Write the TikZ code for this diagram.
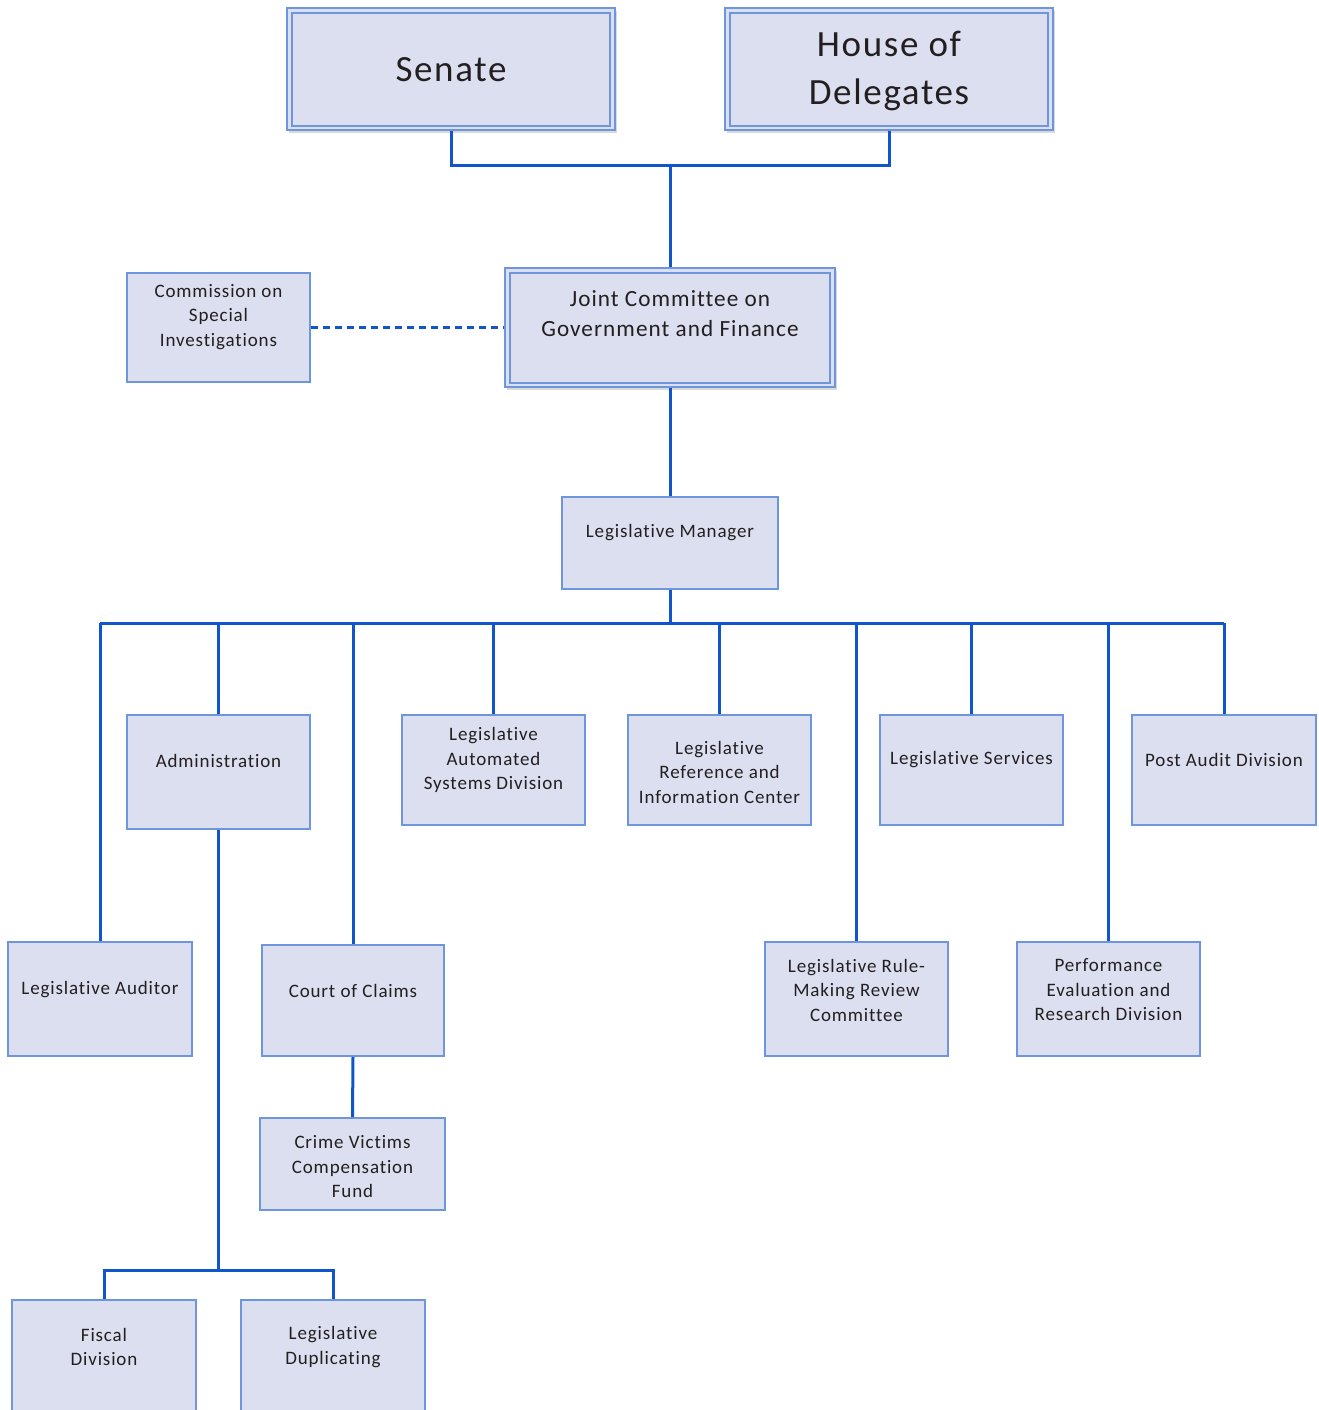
\documentclass[tikz,border=0pt]{standalone}
\usepackage{fontspec}
\setmainfont{Carlito}
\usetikzlibrary{fit,shadows}
\definecolor{bfill}{RGB}{220,223,240}
\definecolor{bline}{RGB}{110,150,220}
\definecolor{connc}{RGB}{17,85,204}
\definecolor{tcol}{RGB}{35,31,32}
\newfontfamily\spaced[LetterSpace=4.5,Ligatures={NoCommon}]{Carlito}
\newcommand\orgbox[8]{%
  \node[box, fit={(#2,#3) (#4,#5)}] (#1) {};
  \node[txt, #7] (#1-t) at ({(#2+#4)/2},#6) {#8};}
\newcommand\topbox[8]{%
  \node[box, topshadow, fit={(#2,#3) (#4,#5)}] (#1) {};
  \node[innerbox, fit={(#2+5,#3+5) (#4-5,#5-4)}] (#1-in) {};
  \node[txt, #7] (#1-t) at ({(#2+#4)/2},#6) {#8};}
\tikzset{
  box/.style={rectangle, draw=bline, fill=bfill, line width=1.8pt, inner sep=0pt},
  topshadow/.style={drop shadow={shadow xshift=2pt, shadow yshift=-3pt, opacity=0.25, fill=black!60}},
  innerbox/.style={rectangle, draw=bline, line width=1.5pt, inner sep=0pt},
  txt/.style={align=center, inner sep=0pt, text=tcol, font=\spaced\fontsize{19}{24.5}\selectfont},
  midf/.style={font=\spaced\fontsize{23.2}{30}\selectfont},
  bigf/.style={font=\spaced\fontsize{37}{48}\selectfont},
  smf/.style={},
  conn/.style={draw=connc, line width=3pt},
  dconn/.style={draw=connc, line width=2.5pt, dash pattern=on 7pt off 5pt},
}
\begin{document}
\begin{tikzpicture}[x=1pt,y=-1pt]
\useasboundingbox (0,0) rectangle (1318,1410);
\clip (0,0) rectangle (1318,1410);
% top level
\topbox{sen}{287}{8}{615}{130}{70}{bigf}{Senate}
\topbox{hod}{725}{8}{1053}{130}{71}{bigf}{House of\\Delegates}
\topbox{jc}{505}{268}{835}{387}{314}{midf}{Joint Committee on\\Government and Finance}
\orgbox{csi}{127}{273}{310}{382}{317}{smf}{Commission on\\Special\\Investigations}
\orgbox{lm}{562}{497}{778}{589}{533}{smf}{Legislative Manager}
% second row
\orgbox{adm}{127}{715}{310}{829}{761}{smf}{Administration}
\orgbox{lasd}{402}{715}{585}{825}{760}{smf}{Legislative\\Automated\\Systems Division}
\orgbox{lric}{628}{715}{811}{825}{772}{smf}{Legislative\\Reference and\\Information Center}
\orgbox{ls}{880}{715}{1063}{825}{760}{smf}{Legislative Services}
\orgbox{pad}{1132}{715}{1316}{825}{760}{smf}{Post Audit Division}
% third row
\orgbox{la}{8}{942}{192}{1056}{990}{smf}{Legislative Auditor}
\orgbox{coc}{262}{945}{444}{1056}{991}{smf}{Court of Claims}
\orgbox{rule}{765}{942}{948}{1056}{990}{smf}{Legislative Rule-\\Making Review\\Committee}
\orgbox{perf}{1017}{942}{1200}{1056}{990}{smf}{Performance\\Evaluation and\\Research Division}
\orgbox{cv}{260}{1118}{445}{1210}{1167}{smf}{Crime Victims\\Compensation\\Fund}
\orgbox{fis}{12}{1300}{196}{1430}{1347}{smf}{Fiscal\\Division}
\orgbox{ldup}{241}{1300}{425}{1430}{1347}{smf}{Legislative\\Duplicating}
% connectors
\coordinate (topbus) at (670,165);
\coordinate (busL) at (100,623);
\coordinate (busR) at (1224,623);
\coordinate (admbus) at (218.5,1270);
\draw[conn] (sen.south) |- (topbus) -| (hod.south);
\draw[conn] (topbus) -- (jc.north);
\draw[dconn] (csi.east) -- (jc.west);
\draw[conn] (jc.south) -- (lm.north);
\draw[conn] (lm.south) -- (lm.south |- busL);
\draw[conn] (busL) -- (busR);
\foreach \n in {la,adm,coc,lasd,lric,rule,ls,perf,pad}
  \draw[conn] (\n.north) -- (\n.north |- busL);
\draw[conn] (adm.south) -- (admbus);
\draw[conn] (fis.north) |- (admbus) -| (ldup.north);
\draw[conn] (coc.south) -- (cv.north);
\end{tikzpicture}
\end{document}
